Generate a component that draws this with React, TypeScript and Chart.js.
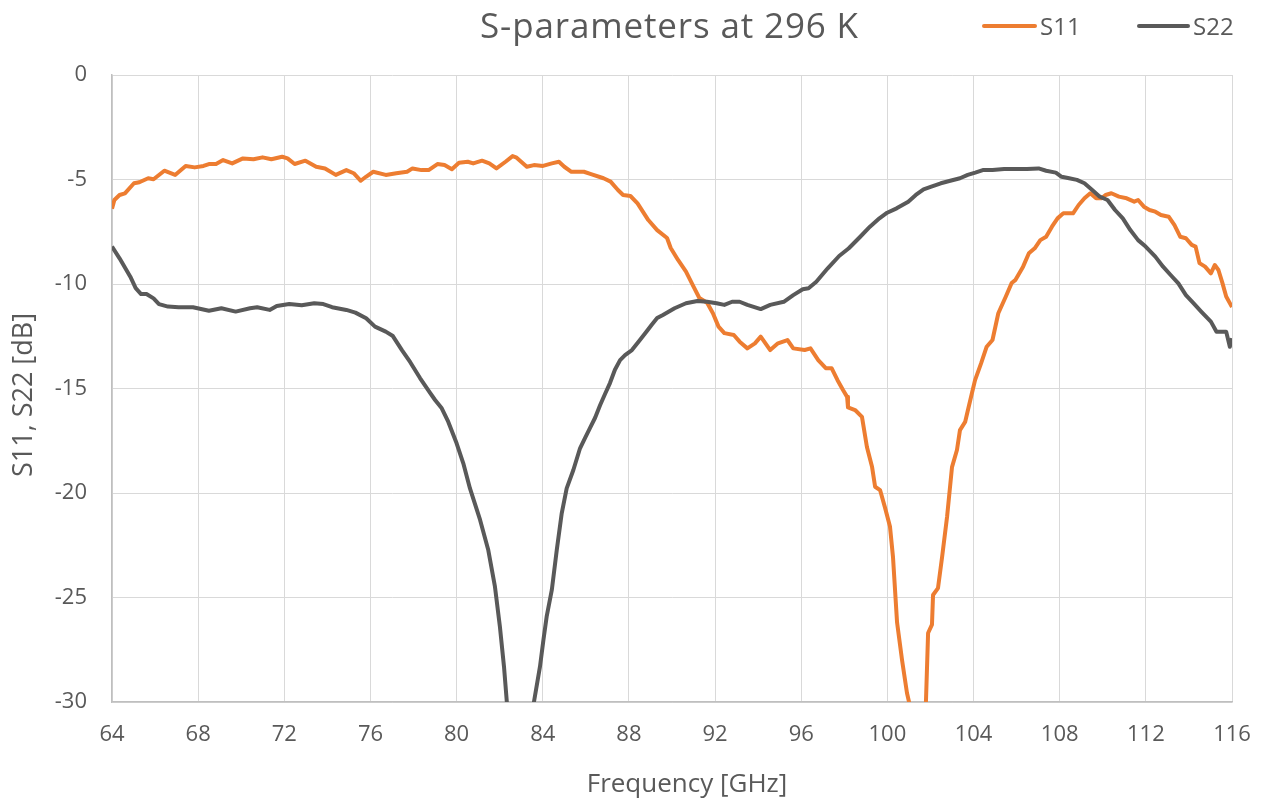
import React, { useEffect, useRef } from "react";
import { Chart, registerables } from "chart.js";

Chart.register(...registerables);

const chartTitle = "S-parameters at 296 K";
const xAxisTitle = "Frequency [GHz]";
const yAxisTitle = "S11, S22 [dB]";
const seriesNames = ["S11", "S22"];
const seriesColors = ["#ED7D31", "#595959"];

const s11Freq = [64.0, 64.11, 64.35, 64.6, 65.02, 65.27, 65.68, 65.93, 66.43, 66.93,
  67.42, 67.84, 68.25, 68.5, 68.83, 69.16, 69.58, 70.08, 70.57, 70.99,
  71.4, 71.9, 72.15, 72.48, 72.98, 73.48, 73.89, 74.39, 74.88, 75.22,
  75.55, 75.79, 76.13, 76.71, 77.2, 77.7, 77.95, 78.37, 78.7, 79.11,
  79.44, 79.78, 80.11, 80.52, 80.77, 81.18, 81.52, 81.85, 82.27, 82.6,
  82.76, 83.26, 83.59, 84.01, 84.42, 84.75, 85.0, 85.33, 85.91, 86.24,
  86.82, 87.15, 87.49, 87.73, 88.07, 88.4, 88.9, 89.31, 89.77, 89.94,
  90.28, 90.65, 91.0, 91.27, 91.63, 91.9, 92.16, 92.43, 92.87, 93.14,
  93.5, 93.85, 94.12, 94.56, 94.92, 95.36, 95.63, 96.16, 96.43, 96.79,
  97.14, 97.41, 97.68, 97.94, 98.13, 98.17, 98.5, 98.82, 99.05, 99.29,
  99.43, 99.66, 99.89, 100.12, 100.26, 100.45, 100.68, 100.91, 101.05, 101.4,
  101.76, 101.89, 102.07, 102.12, 102.35, 102.54, 102.77, 103.0, 103.23, 103.37,
  103.61, 103.74, 103.93, 104.07, 104.35, 104.61, 104.88, 105.15, 105.5, 105.77,
  105.95, 106.3, 106.57, 106.84, 107.1, 107.37, 107.64, 107.9, 108.17, 108.62,
  108.88, 109.15, 109.42, 109.69, 109.95, 110.13, 110.4, 110.75, 111.11, 111.46,
  111.64, 111.91, 112.17, 112.44, 112.7, 113.06, 113.33, 113.6, 113.86, 114.13,
  114.31, 114.49, 114.75, 115.02, 115.2, 115.37, 115.56, 115.73, 116.0];

const s11Db = [-6.4, -5.98, -5.74, -5.66, -5.18, -5.13, -4.94, -4.99, -4.58, -4.78,
  -4.35, -4.42, -4.35, -4.26, -4.26, -4.07, -4.23, -3.99, -4.03, -3.94,
  -4.03, -3.91, -3.99, -4.26, -4.1, -4.39, -4.47, -4.78, -4.55, -4.7,
  -5.06, -4.87, -4.63, -4.78, -4.7, -4.63, -4.47, -4.55, -4.55, -4.26,
  -4.31, -4.51, -4.2, -4.15, -4.23, -4.1, -4.23, -4.47, -4.15, -3.88,
  -3.94, -4.39, -4.31, -4.35, -4.23, -4.15, -4.39, -4.63, -4.63, -4.74,
  -4.94, -5.1, -5.5, -5.74, -5.79, -6.14, -6.94, -7.42, -7.8, -8.28,
  -8.85, -9.41, -10.13, -10.67, -10.9, -11.4, -12.04, -12.35, -12.44, -12.76,
  -13.08, -12.84, -12.52, -13.16, -12.84, -12.68, -13.08, -13.16, -13.08, -13.64,
  -14.03, -14.03, -14.59, -15.07, -15.4, -15.9, -16.03, -16.36, -17.8, -18.76,
  -19.7, -19.86, -20.7, -21.6, -23.06, -26.2, -27.99, -29.57, -30.2, -33,
  -31, -26.7, -26.3, -24.88, -24.55, -23.06, -21.15, -18.76, -17.94, -16.99,
  -16.6, -16.03, -15.2, -14.6, -13.8, -13.0, -12.68, -11.4, -10.6, -9.95,
  -9.8, -9.17, -8.53, -8.29, -7.9, -7.74, -7.26, -6.86, -6.62, -6.62,
  -6.22, -5.9, -5.66, -5.9, -5.9, -5.74, -5.66, -5.82, -5.9, -6.06,
  -5.98, -6.3, -6.46, -6.54, -6.7, -6.78, -7.18, -7.74, -7.81, -8.13,
  -8.21, -9.0, -9.17, -9.49, -9.09, -9.33, -9.97, -10.6, -11.1];

const s22Freq = [64.0, 64.35, 64.85, 65.1, 65.35, 65.6, 65.93, 66.18, 66.6, 67.09,
  67.76, 68.5, 69.08, 69.74, 70.41, 70.74, 71.32, 71.65, 72.23, 72.81,
  73.39, 73.81, 74.22, 74.88, 75.3, 75.8, 76.21, 76.71, 77.04, 77.46,
  77.84, 78.3, 78.76, 79.0, 79.31, 79.61, 80.0, 80.31, 80.62, 81.09,
  81.47, 81.78, 82.01, 82.2, 82.33, 82.4, 83.0, 83.5, 83.59, 83.87,
  84.03, 84.18, 84.42, 84.65, 84.88, 85.11, 85.42, 85.73, 85.96, 86.19,
  86.43, 86.66, 86.89, 87.12, 87.35, 87.59, 87.82, 88.14, 88.51, 88.81,
  89.05, 89.31, 89.58, 90.12, 90.65, 91.18, 91.63, 92.07, 92.43, 92.79,
  93.14, 93.5, 94.12, 94.56, 95.19, 95.63, 96.07, 96.34, 96.7, 97.23,
  97.76, 98.21, 98.74, 99.19, 99.63, 99.99, 100.43, 100.97, 101.32, 101.68,
  102.04, 102.48, 102.92, 103.37, 103.73, 104.08, 104.43, 104.88, 105.42, 105.95,
  106.48, 107.02, 107.37, 107.82, 108.09, 108.44, 108.8, 109.15, 109.51, 109.86,
  110.22, 110.57, 110.93, 111.28, 111.64, 111.99, 112.44, 112.8, 113.15, 113.51,
  113.86, 114.21, 114.57, 115.02, 115.28, 115.73, 115.9, 116.0];

const s22Db = [-8.21, -8.77, -9.65, -10.2, -10.48, -10.48, -10.69, -10.96, -11.08, -11.11,
  -11.11, -11.28, -11.16, -11.32, -11.16, -11.11, -11.24, -11.05, -10.96, -11.02,
  -10.92, -10.96, -11.11, -11.24, -11.37, -11.64, -12.04, -12.28, -12.49, -13.16,
  -13.73, -14.5, -15.2, -15.55, -15.95, -16.59, -17.62, -18.58, -19.78, -21.29,
  -22.73, -24.48, -26.4, -28.31, -29.98, -31.5, -35, -31, -30.0, -28.31,
  -27.03, -25.92, -24.64, -22.73, -20.97, -19.78, -18.9, -17.86, -17.37, -16.9,
  -16.4, -15.8, -15.26, -14.74, -14.1, -13.64, -13.4, -13.16, -12.68, -12.28,
  -11.96, -11.63, -11.48, -11.16, -10.92, -10.81, -10.85, -10.92, -11.0, -10.85,
  -10.85, -11.0, -11.2, -11.0, -10.85, -10.53, -10.25, -10.2, -9.89, -9.25,
  -8.66, -8.29, -7.74, -7.26, -6.86, -6.59, -6.38, -6.06, -5.74, -5.47,
  -5.34, -5.18, -5.06, -4.94, -4.78, -4.67, -4.55, -4.55, -4.5, -4.5,
  -4.5, -4.47, -4.58, -4.67, -4.87, -4.94, -5.02, -5.18, -5.5, -5.82,
  -5.98, -6.46, -6.86, -7.42, -7.9, -8.21, -8.69, -9.17, -9.57, -9.97,
  -10.53, -10.92, -11.32, -11.8, -12.28, -12.28, -13.0, -12.6];

const xRange = [64, 116];
const xStep = 4;
const yRange = [-30, 0];
const yStep = 5;

const FONT = "'Open Sans', sans-serif";
const TEXT_COLOR = "#595959";

const toPoints = (xs: number[], ys: number[]) => xs.map((x, i) => ({ x, y: ys[i] }));

const overlayPlugin = {
  id: "overlayText",
  afterDraw(chart: any) {
    const ctx: CanvasRenderingContext2D = chart.ctx;
    ctx.save();
    ctx.fillStyle = TEXT_COLOR;

    // Title
    ctx.font = `35px ${FONT}`;
    ctx.textAlign = "left";
    ctx.textBaseline = "alphabetic";
    const natural = ctx.measureText(chartTitle).width;
    const targetW = 378;
    const spacing = Math.max(0, (targetW - natural) / (chartTitle.length - 1));
    (ctx as any).letterSpacing = `${spacing}px`;
    ctx.fillText(chartTitle, 669 - targetW / 2, 38);
    (ctx as any).letterSpacing = "0px";

    // Legend
    const legendItems = [
      { x0: 984, x1: 1035, tx: 1040 },
      { x0: 1139, x1: 1188, tx: 1193 },
    ];
    legendItems.forEach((it, i) => {
      ctx.strokeStyle = seriesColors[i];
      ctx.lineWidth = 4;
      ctx.lineCap = "round";
      ctx.beginPath();
      ctx.moveTo(it.x0, 26);
      ctx.lineTo(it.x1, 26);
      ctx.stroke();
      ctx.fillStyle = TEXT_COLOR;
      ctx.font = `24px ${FONT}`;
      ctx.textAlign = "left";
      ctx.fillText(seriesNames[i], it.tx, 35);
    });

    // X axis title
    ctx.font = `26px ${FONT}`;
    ctx.textAlign = "center";
    ctx.fillText(xAxisTitle, 687, 792);

    // Y axis title
    ctx.translate(32, 395);
    ctx.rotate(-Math.PI / 2);
    ctx.font = `27px ${FONT}`;
    ctx.textAlign = "center";
    ctx.fillText(yAxisTitle, 0, 0);
    ctx.restore();
  },
};

export default function App() {
  const ref = useRef<HTMLCanvasElement | null>(null);

  useEffect(() => {
    if (!ref.current) return;
    const tickFont = { family: FONT, size: 22 };
    const chart = new Chart(ref.current, {
      type: "line",
      data: {
        datasets: [
          {
            label: seriesNames[0],
            data: toPoints(s11Freq, s11Db),
            borderColor: seriesColors[0],
            backgroundColor: seriesColors[0],
            order: 1,
          },
          {
            label: seriesNames[1],
            data: toPoints(s22Freq, s22Db),
            borderColor: seriesColors[1],
            backgroundColor: seriesColors[1],
            order: 0,
          },
        ],
      },
      options: {
        animation: false,
        responsive: false,
        events: [],
        layout: { padding: { top: 75, right: 30, left: 0, bottom: 0 } },
        elements: {
          point: { radius: 0 },
          line: { borderWidth: 4, tension: 0, borderJoinStyle: "round", borderCapStyle: "butt" },
        },
        datasets: { line: { clip: { left: 0, top: 3, right: 0, bottom: 0 } as any } },
        plugins: {
          legend: { display: false },
          title: { display: false },
          tooltip: { enabled: false },
        },
        scales: {
          x: {
            type: "linear",
            min: xRange[0],
            max: xRange[1],
            ticks: { stepSize: xStep, padding: 20, color: TEXT_COLOR, font: tickFont, maxRotation: 0, autoSkip: false },
            grid: { color: "#D9D9D9", lineWidth: 1, drawTicks: false },
            border: { color: "#BFBFBF", width: 1.5 },
            afterFit: (s: any) => {
              s.height = 98;
              s.paddingLeft = 0;
              s.paddingRight = 0;
            },
          },
          y: {
            type: "linear",
            min: yRange[0],
            max: yRange[1],
            ticks: { stepSize: yStep, padding: 25, color: TEXT_COLOR, font: tickFont },
            grid: { color: "#D9D9D9", lineWidth: 1, drawTicks: false },
            border: { color: "#BFBFBF", width: 1.5 },
            afterFit: (s: any) => {
              s.width = 112;
              s.paddingTop = 0;
              s.paddingBottom = 0;
            },
          },
        },
      },
      plugins: [overlayPlugin],
    } as any);
    return () => chart.destroy();
  }, []);

  return (
    <div style={{ position: "absolute", left: 0, top: 0, width: 1262, height: 800, background: "#fff" }}>
      <canvas ref={ref} width={1262} height={800} style={{ display: "block", width: 1262, height: 800 }} />
    </div>
  );
}
